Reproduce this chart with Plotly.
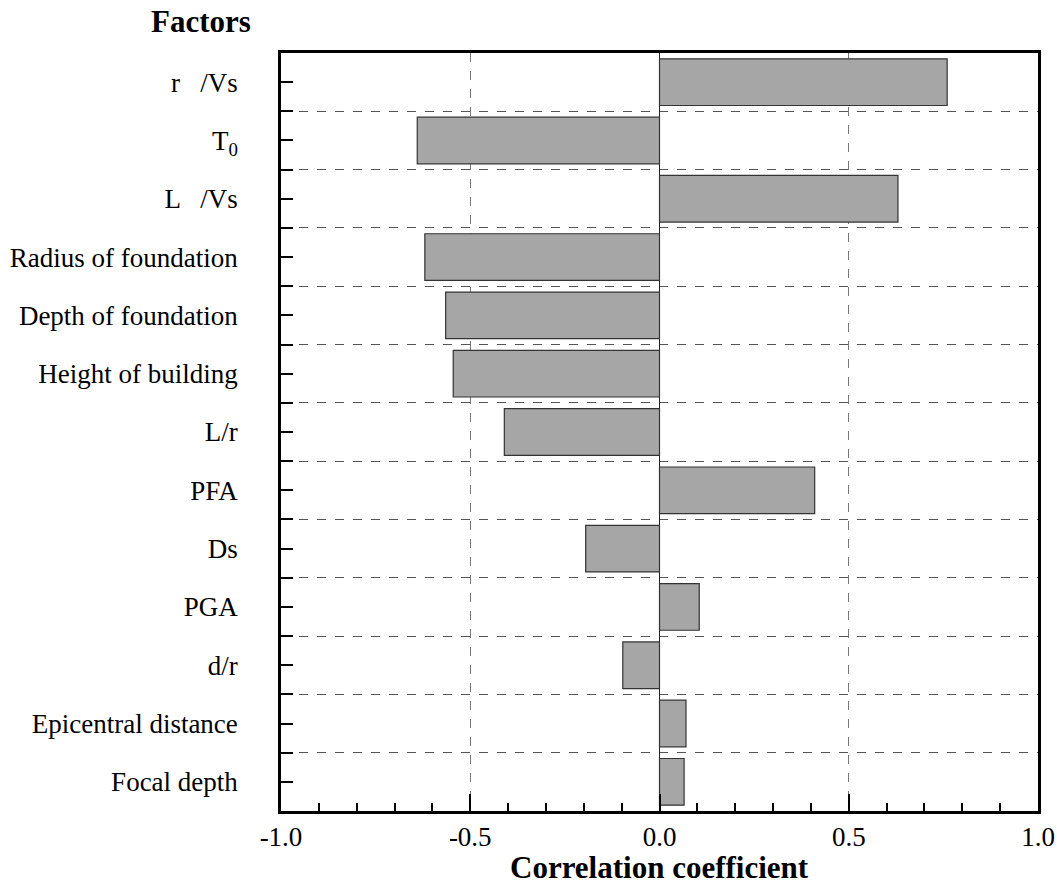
import plotly.graph_objects as go

factors = ["r   /Vs", "T<sub>0</sub>", "L   /Vs", "Radius of foundation", "Depth of foundation",
           "Height of building", "L/r", "PFA", "Ds", "PGA", "d/r",
           "Epicentral distance", "Focal depth"]
corr = [0.76, -0.64, 0.63, -0.62, -0.565, -0.545, -0.41, 0.41, -0.195, 0.105, -0.097, 0.07, 0.065]
x_ticks = [-1.0, -0.5, 0.0, 0.5, 1.0]
x_ticktext = ["-1.0", "-0.5", "0.0", "0.5", "1.0"]

n = len(factors)
pos = list(range(n))
bounds = [i + 0.5 for i in range(n - 1)]

font = "Liberation Serif, Times New Roman, serif"

fig = go.Figure(go.Bar(
    x=corr, y=pos, orientation="h", width=0.8,
    marker=dict(color="#a6a6a6", line=dict(color="#333333", width=1.2)),
))

fig.update_layout(
    width=1057, height=885,
    margin=dict(l=281, r=19, t=53, b=74),
    paper_bgcolor="white", plot_bgcolor="white",
    showlegend=False,
    font=dict(family=font, size=27, color="black"),
    annotations=[
        dict(text="<b>Factors</b>", xref="paper", yref="paper",
             x=-0.106, y=1.041, xanchor="center", yanchor="middle",
             showarrow=False, font=dict(size=31, family=font)),
        dict(text="<b>Correlation coefficient</b>", xref="paper", yref="paper",
             x=0.5, y=-0.075, xanchor="center", yanchor="middle",
             showarrow=False, font=dict(size=31, family=font)),
    ],
)

fig.update_xaxes(
    range=[-1, 1], tickvals=x_ticks, ticktext=x_ticktext, automargin=False,
    ticks="inside", ticklen=17, tickwidth=2, tickcolor="black",
    showline=True, linewidth=2.5, linecolor="black", mirror=True,
    showgrid=True, gridcolor="#777777", griddash="dash", gridwidth=1,
    zeroline=True, zerolinecolor="#222222", zerolinewidth=1,
    minor=dict(dtick=0.1, ticks="inside", ticklen=8, tickwidth=2, tickcolor="black", showgrid=False),
    tickfont=dict(size=27),
)

fig.update_yaxes(
    range=[n - 0.5, -0.5], tickmode="array", tickvals=pos, ticktext=factors, automargin=False,
    ticks="inside", ticklen=12, tickwidth=2, tickcolor="black",
    showline=True, linewidth=2.5, linecolor="black", mirror=True,
    showgrid=False, zeroline=False,
    ticklabelstandoff=35,
    minor=dict(tickvals=bounds, ticks="inside", ticklen=12, tickwidth=2, tickcolor="black",
               showgrid=True, gridcolor="#555555", griddash="dash", gridwidth=1),
    tickfont=dict(size=27),
)

fig.write_html("out.html")
